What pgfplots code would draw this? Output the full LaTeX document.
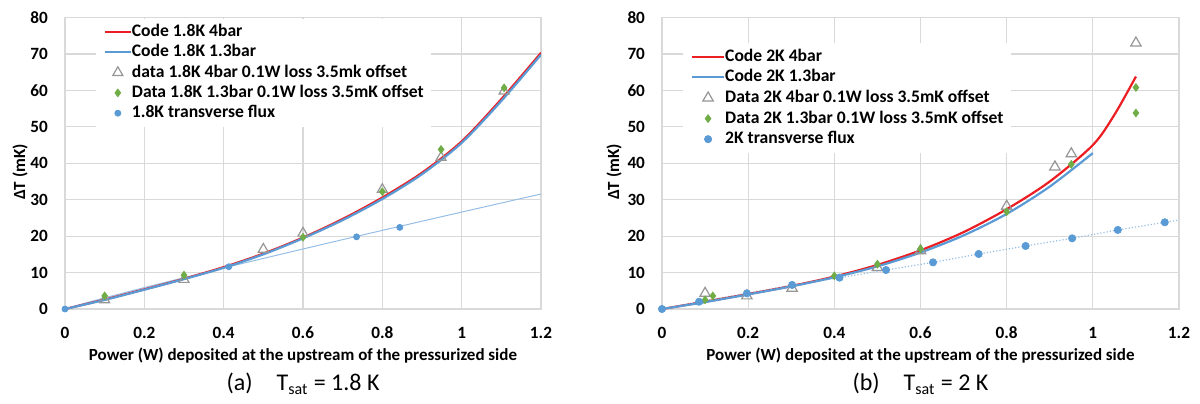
\documentclass[border=0pt]{standalone}
\usepackage{fontspec}
\setmainfont{Carlito}
\usepackage{pgfplots}
\pgfplotsset{compat=1.18}

\definecolor{exred}{RGB}{235,30,35}
\definecolor{exblue}{RGB}{91,155,213}
\definecolor{extrend}{RGB}{150,190,228}
\definecolor{exgreen}{RGB}{112,173,71}
\definecolor{exgray}{RGB}{150,150,150}
\definecolor{gridc}{RGB}{217,217,217}

\pgfplotsset{
  myaxis/.style={
    scale only axis, anchor=south west,
    xmin=0, xmax=1.2, ymin=0, ymax=80,
    xtick={0,0.2,0.4,0.6,0.8,1,1.2}, ytick={0,10,...,80},
    grid=major, major grid style={gridc, line width=0.6pt},
    axis line style={gridc, line width=0.6pt},
    major tick length=0pt,
    tick label style={font=\fontsize{8.6}{10}\selectfont\bfseries},
    /pgf/number format/assume math mode=true,
    xticklabel style={yshift=-5.5pt},
    yticklabel style={xshift=-5pt},
    label style={font=\fontsize{8.5}{10}\selectfont\bfseries},
    xlabel={Power (W) deposited at the upstream of the pressurized side},
    ylabel={ΔT (mK)},
    xlabel style={at={(axis description cs:0.5,-0.161)}, anchor=center},
    legend cell align=left,
  },
  linelegend/.style={legend image code/.code={\draw[##1] (0pt,0pt) -- (#1,0pt);}},
  marklegend/.style={legend image code/.code={\draw[##1, mark repeat=2, mark phase=2] plot coordinates {(0pt,0pt) (#1/2,0pt) (#1,0pt)};}},
}

\begin{document}
\begin{tikzpicture}
\useasboundingbox (0,0) rectangle (600pt,201.5pt);

% ---------------- (a) 1.8 K ----------------
\begin{axis}[myaxis, name=axA,
  at={(32.5pt,47pt)}, width=238pt, height=145.75pt,
  ylabel style={at={(axis description cs:-0.0945,0.47)}, anchor=center},
  legend style={draw=none, fill=white, inner xsep=3.7pt, inner ysep=3pt,
    at={(axis description cs:0.065,0.998)}, anchor=north west,
    font=\fontsize{8.8}{10}\selectfont\bfseries,
    nodes={inner sep=0pt, text height=6pt, text depth=1.5pt},
    row sep=2.65pt, /tikz/column 2/.style={column sep=1pt}},
]
\addplot[extrend, line width=0.5pt, forget plot] coordinates {
(0,0) (0.05,1.60) (0.1,3.07) (0.2,5.88) (0.3,8.60) (0.4,11.26) (0.5,13.88) (0.6,16.47)
(0.7,19.04) (0.8,21.58) (0.9,24.10) (1.0,26.6) (1.1,29.09) (1.2,31.56)};
\addplot[exred, line width=1.1pt, smooth, linelegend=13pt] coordinates {
(0,0) (0.1,2.6) (0.2,5.4) (0.3,8.3) (0.4,11.5) (0.5,15.2) (0.6,19.6) (0.7,24.7)
(0.8,30.6) (0.9,37.4) (1.0,46.0) (1.1,57.6) (1.2,70.3)};
\addlegendentry{Code 1.8K 4bar}
\addplot[exblue, line width=1.1pt, smooth, linelegend=13pt] coordinates {
(0,0) (0.1,2.5) (0.2,5.3) (0.3,8.2) (0.4,11.3) (0.5,15.0) (0.6,19.4) (0.7,24.4)
(0.8,30.2) (0.9,37.0) (1.0,45.6) (1.1,57.1) (1.2,69.8)};
\addlegendentry{Code 1.8K 1.3bar}
\addplot[only marks, mark=triangle, mark size=2.9pt, exgray, mark options={line width=0.6pt}, marklegend=13pt] coordinates {
(0.1,2.5) (0.3,8.1) (0.5,16.4) (0.6,20.8) (0.8,32.8) (0.948,41.6) (1.107,59.8)};
\addlegendentry{data 1.8K 4bar 0.1W loss 3.5mk offset}
\addplot[only marks, mark=diamond*, mark size=1.9pt, exgreen, mark options={fill=exgreen}, marklegend=13pt] coordinates {
(0.1,3.6) (0.3,9.3) (0.6,19.7) (0.8,32.2) (0.948,43.8) (1.107,60.7)};
\addlegendentry{Data 1.8K 1.3bar 0.1W loss 3.5mK offset}
\addplot[only marks, mark=*, mark size=1.5pt, exblue, mark options={fill=exblue}, marklegend=13pt] coordinates {
(0,0) (0.413,11.6) (0.735,19.8) (0.844,22.4)};
\addlegendentry{1.8K transverse flux}
\end{axis}
\node[font=\fontsize{12}{14}\selectfont, anchor=center] at ([yshift=-37.5pt]axA.south)
  {(a)\hspace{12pt}T\textsubscript{sat} = 1.8 K};

% ---------------- (b) 2 K ----------------
\begin{axis}[myaxis, name=axB,
  at={(331pt,47pt)}, width=258.5pt, height=145.75pt,
  ylabel style={at={(axis description cs:-0.0928,0.47)}, anchor=center},
  legend style={draw=none, fill=white, inner xsep=3.8pt, inner ysep=3pt,
    at={(axis description cs:0.0406,0.913)}, anchor=north west,
    font=\fontsize{8.8}{10}\selectfont\bfseries,
    nodes={inner sep=0pt, text height=6pt, text depth=1.5pt},
    row sep=2.8pt, /tikz/column 2/.style={column sep=0.8pt}},
]
\addplot[extrend, line width=0.6pt, densely dotted, forget plot] coordinates {
(0,0) (0.086,2.0) (0.197,4.3) (0.302,6.6) (0.412,8.6) (0.52,10.7) (0.629,12.8)
(0.735,15.1) (0.844,17.3) (0.952,19.4) (1.058,21.7) (1.167,23.8) (1.2,24.4)};
\addplot[exred, line width=1.1pt, smooth, linelegend=16pt] coordinates {
(0,0) (0.1,2.0) (0.2,4.1) (0.3,6.3) (0.4,8.9) (0.5,12.1) (0.6,16.1) (0.7,21.1)
(0.8,27.4) (0.9,35.0) (1.0,45.0) (1.05,53.3) (1.1,63.8)};
\addlegendentry{Code 2K 4bar}
\addplot[exblue, line width=1.1pt, smooth, linelegend=16pt] coordinates {
(0,0) (0.1,1.9) (0.2,4.0) (0.3,6.2) (0.4,8.7) (0.5,11.7) (0.6,15.5) (0.7,20.2)
(0.8,26.1) (0.9,33.6) (1.0,42.8)};
\addlegendentry{Code 2K 1.3bar}
\addplot[only marks, mark=triangle, mark size=3pt, exgray, mark options={line width=0.6pt}, marklegend=16pt] coordinates {
(0.1,4.3) (0.197,3.6) (0.302,5.7) (0.5,11.4) (0.6,16.0) (0.8,28.2) (0.912,39.0) (0.95,42.6) (1.10,73.0)};
\addlegendentry{Data 2K 4bar 0.1W loss 3.5mK offset}
\addplot[only marks, mark=diamond*, mark size=1.9pt, exgreen, mark options={fill=exgreen}, marklegend=16pt] coordinates {
(0.1,2.5) (0.118,3.6) (0.4,9.1) (0.5,12.3) (0.6,16.5) (0.8,26.7) (0.95,39.7) (1.1,60.8) (1.1,53.8)};
\addlegendentry{Data 2K 1.3bar 0.1W loss 3.5mK offset}
\addplot[only marks, mark=*, mark size=1.8pt, exblue, mark options={fill=exblue}, marklegend=16pt] coordinates {
(0,0) (0.086,2.0) (0.197,4.3) (0.302,6.6) (0.412,8.6) (0.52,10.7) (0.629,12.8)
(0.735,15.1) (0.844,17.3) (0.952,19.4) (1.058,21.7) (1.167,23.8)};
\addlegendentry{2K transverse flux}
\end{axis}
\node[font=\fontsize{12}{14}\selectfont, anchor=center] at ([yshift=-37.5pt]axB.south)
  {(b)\hspace{12pt}T\textsubscript{sat} = 2 K};
\end{tikzpicture}
\end{document}
